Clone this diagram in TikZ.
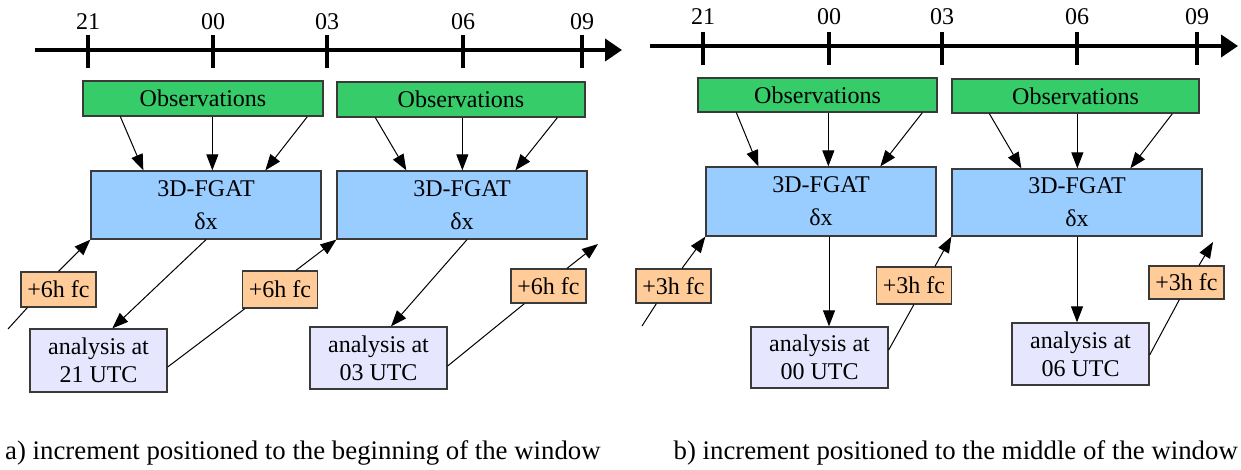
\documentclass[tikz,border=0pt]{standalone}
\usepackage{fontspec}
\setmainfont{Liberation Serif}
\usetikzlibrary{arrows.meta,calc}
\definecolor{obsgreen}{HTML}{36CC6A}
\definecolor{fgatblue}{HTML}{99CCFF}
\definecolor{fcorange}{HTML}{FFCC99}
\definecolor{anlav}{HTML}{E6E6FF}
\definecolor{edge}{HTML}{3A3A3A}
\begin{document}
\begin{tikzpicture}[x=1pt,y=-1pt,
  every node/.style={font=\fontsize{24}{28}\selectfont, inner sep=0pt},
  box/.style={draw=edge, line width=1.3pt, align=center},
  obsbox/.style={box, fill=obsgreen, minimum height=35pt},
  fgatbox/.style={box, fill=fgatblue, minimum height=68pt, font=\fontsize{24}{33}\selectfont},
  fcbox/.style={box, fill=fcorange, minimum width=75pt, minimum height=35pt},
  anbox/.style={box, fill=anlav, minimum width=137pt, minimum height=62pt, font=\fontsize{24}{28}\selectfont},
  conn/.style={line width=1pt, -{Triangle[length=16pt,width=12pt]}},
  plainconn/.style={line width=1pt},
  axis/.style={line width=4pt, -{Triangle[length=17pt,width=22pt]}},
  tick/.style={line width=4pt},
  lbl/.style={anchor=center},
  caption/.style={font=\fontsize{26.8}{30}\selectfont}]
\useasboundingbox (0,0) rectangle (1241,469);

% ---------------- panel a ----------------
\coordinate (a21) at (88,50);
\coordinate (a00) at (213,50);
\coordinate (a03) at (327,50);
\coordinate (a06) at (463,50);
\coordinate (a09) at (582,50);
\coordinate (aS) at (35,50);
\coordinate (aE) at (622,50);
\draw[axis] (aS) -- (aE);
\foreach \t/\l in {a21/21,a00/00,a03/03,a06/06,a09/09}{
  \draw[tick] ($(\t)+(0,-15)$) -- ($(\t)+(0,18)$);
  \node[lbl] (l\t) at ($(\t)+(0,-28)$) {\l};
}

\node[obsbox, minimum width=240pt] (o1) at (203,98.5) {Observations};
\node[obsbox, minimum width=248pt] (o2) at (461,99.5) {Observations};
\node[fgatbox, minimum width=230pt] (f1) at (206,205) {3D-FGAT\\δx};
\node[fgatbox, minimum width=250pt] (f2) at (462,205) {3D-FGAT\\δx};
\node[fcbox] (c1) at (58.5,289.5) {+6h fc};
\node[fcbox, minimum height=37pt] (c2) at (280,289.5) {+6h fc};
\node[fcbox, minimum height=34pt] (c3) at (548.5,286) {+6h fc};
\node[anbox, minimum height=63pt] (an1) at (98.5,360.5) {analysis at\\21 UTC};
\node[anbox] (an2) at (378.5,358) {analysis at\\03 UTC};

\draw[conn] ($(o1.south west)+(38,0)$) -- ($(f1.north west)+(53,0)$);
\draw[conn] ($(o1.south west)+(130,0)$) -- ($(f1.north west)+(122,0)$);
\draw[conn] ($(o1.south west)+(225,0)$) -- ($(f1.north west)+(175,0)$);
\draw[conn] ($(o2.south west)+(39,0)$) -- ($(f2.north west)+(70,0)$);
\draw[conn] ($(o2.south west)+(126,0)$) -- ($(f2.north west)+(126,0)$);
\draw[conn] ($(o2.south west)+(221,0)$) -- ($(f2.north west)+(179,0)$);

\coordinate (s1) at (8,329);
\draw[plainconn] (s1) -- ($(c1.south west)+(7,0)$);
\draw[conn] (c1.north) -- (f1.south west);
\draw[conn] (f1.south) -- ($(an1.north west)+(83,0)$);
\draw[plainconn] ($(an1.east)+(0,6.5)$) -- ($(c2.south west)+(3,0)$);
\draw[conn] ($(c2.north)+(16,0)$) -- (f2.south west);
\draw[conn] ($(f2.south)+(5,0)$) -- ($(an2.north)+(12.5,0)$);
\draw[plainconn] ($(an2.east)+(0,8)$) -- ($(c3.south west)+(14,0)$);
\coordinate (e1) at (598,244);
\draw[conn] ($(c3.north)+(18.5,0)$) -- (e1);

% ---------------- panel b ----------------
\coordinate (b21) at (703,46);
\coordinate (b00) at (829,46);
\coordinate (b03) at (942,46);
\coordinate (b06) at (1077,46);
\coordinate (b09) at (1197,46);
\coordinate (bS) at (650,46);
\coordinate (bE) at (1238,46);
\draw[axis] (bS) -- (bE);
\foreach \t/\l in {b21/21,b00/00,b03/03,b06/06,b09/09}{
  \draw[tick] ($(\t)+(0,-14)$) -- ($(\t)+(0,19)$);
  \node[lbl] (l\t) at ($(\t)+(0,-29)$) {\l};
}

\node[obsbox, minimum width=239pt, minimum height=34pt] (o3) at (817.5,95) {Observations};
\node[obsbox, minimum width=247pt, minimum height=34pt] (o4) at (1075.5,96) {Observations};
\node[fgatbox, minimum width=230pt, minimum height=69pt] (f3) at (821,201.5) {3D-FGAT\\δx};
\node[fgatbox, minimum width=250pt, minimum height=67pt] (f4) at (1077,202.5) {3D-FGAT\\δx};
\node[fcbox, minimum height=34pt] (d1) at (673.5,286) {+3h fc};
\node[fcbox, minimum height=37pt] (d2) at (914,285.5) {+3h fc};
\node[fcbox, minimum height=33pt] (d3) at (1186.5,282.5) {+3h fc};
\node[anbox, minimum height=61pt] (an3) at (819.5,357.5) {analysis at\\00 UTC};
\node[anbox] (an4) at (1080.5,354) {analysis at\\06 UTC};

\draw[conn] ($(o3.south west)+(39,0)$) -- ($(f3.north west)+(53,0)$);
\draw[conn] ($(o3.south west)+(131,0)$) -- ($(f3.north west)+(123,0)$);
\draw[conn] ($(o3.south west)+(225,0)$) -- ($(f3.north west)+(175,0)$);
\draw[conn] ($(o4.south west)+(38,0)$) -- ($(f4.north west)+(70,0)$);
\draw[conn] ($(o4.south west)+(126,0)$) -- ($(f4.north west)+(126,0)$);
\draw[conn] ($(o4.south west)+(221,0)$) -- ($(f4.north west)+(179,0)$);

\coordinate (s2) at (642,326);
\draw[plainconn] (s2) -- ($(d1.south west)+(21,0)$);
\draw[conn] ($(d1.north)+(8.5,0)$) -- (f3.south west);
\draw[conn] (f3.south -| b00) -- (an3.north -| b00);
\draw[plainconn] ($(an3.east)+(0,-7.5)$) -- ($(d2.south west)+(38,0)$);
\draw[conn] ($(d2.north)+(21,0)$) -- (f4.south west);
\draw[conn] (f4.south -| b06) -- (an4.north -| b06);
\draw[plainconn] ($(an4.east)+(0,1)$) -- ($(d3.south west)+(31,0)$);
\coordinate (e2) at (1213,242);
\draw[conn] ($(d3.north)+(12.5,0)$) -- (e2);

% captions
\node[caption, anchor=base west] (capa) at (5,459) {a) increment positioned to the beginning of the window};
\node[caption, anchor=base east] (capb) at (1238,459) {b) increment positioned to the middle of the window};
\end{tikzpicture}
\end{document}
